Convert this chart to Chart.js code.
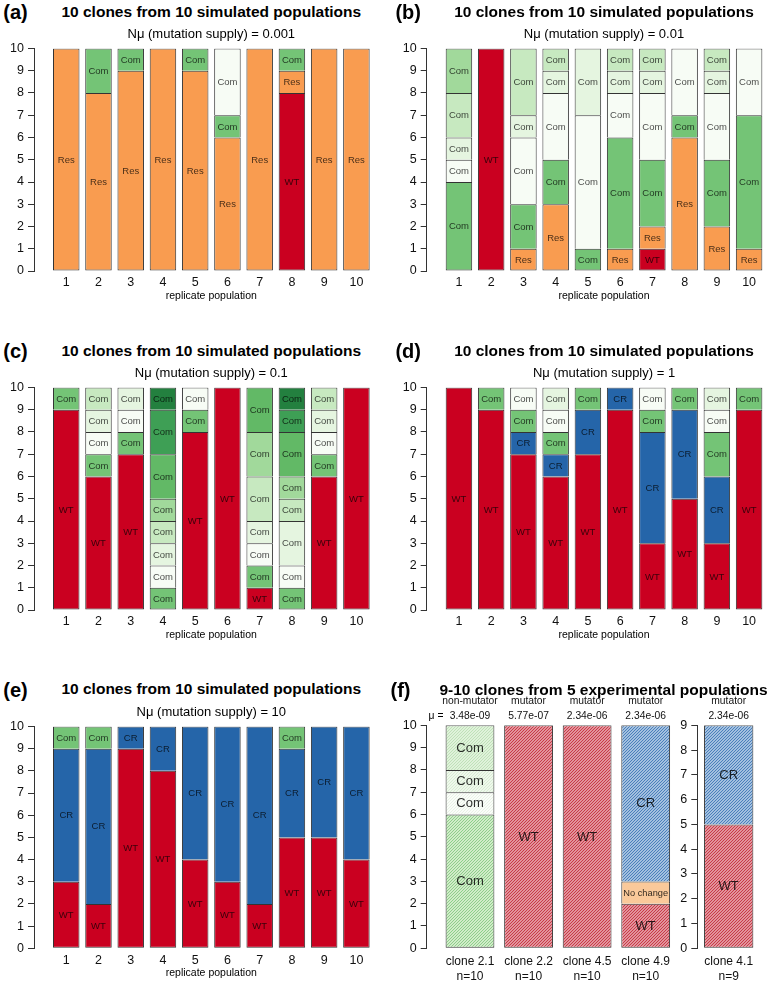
<!DOCTYPE html>
<html><head><meta charset="utf-8">
<script src="https://cdn.jsdelivr.net/npm/chart.js@4.4.1/dist/chart.umd.min.js"></script>
<style>
html,body{margin:0;padding:0;background:#fff;}
body{width:771px;height:982px;position:relative;overflow:hidden;font-family:"Liberation Sans",Arial,Helvetica,sans-serif;}
canvas{position:absolute;}
.t{position:absolute;white-space:nowrap;transform:translate(-50%,-50%);color:#000;line-height:1;}
</style></head><body>
<script>
// ---------------- DATA ----------------
const replicates = ['1','2','3','4','5','6','7','8','9','10'];
const yTickVals = [0,1,2,3,4,5,6,7,8,9,10];
const yTickValsClone41 = [0,1,2,3,4,5,6,7,8,9];
const panelLetters = ['(a)','(b)','(c)','(d)','(e)','(f)'];
const simTitle = '10 clones from 10 simulated populations';
const expTitle = '9-10 clones from 5 experimental populations';
const supplies = ['0.001','0.01','0.1','1','10'];

// genotype of each stacked segment (bottom to top) and its clone count
const typesA = [['Res'],['Res','Com0'],['Res','Com0'],['Res'],['Res','Com0'],['Res','Com0','Com1'],['Res'],['WT','Res','Com0'],['Res'],['Res']];
const countsA = [[10],[8,2],[9,1],[10],[9,1],[6,1,3],[10],[8,1,1],[10],[10]];

const typesB = [['Com0','Com1','Com2','Com3','Com4'],['WT'],['Res','Com0','Com1','Com2','Com3'],['Res','Com0','Com1','Com2','Com3'],['Com0','Com1','Com2'],['Res','Com0','Com1','Com2','Com3'],['WT','Res','Com0','Com1','Com2','Com3'],['Res','Com0','Com1'],['Res','Com0','Com1','Com2','Com3'],['Res','Com0','Com1']];
const countsB = [[4,1,1,2,2],[10],[1,2,3,1,3],[3,2,3,1,1],[1,6,3],[1,5,2,1,1],[1,1,3,3,1,1],[6,1,3],[2,3,3,1,1],[1,6,3]];

const typesC = [['WT','Com0'],['WT','Com0','Com1','Com2','Com3'],['WT','Com0','Com1','Com2'],['Com0','Com1','Com2','Com3','Com4','Com5','Com6','Com7'],['WT','Com0','Com1'],['WT'],['WT','Com0','Com1','Com2','Com3','Com4','Com5'],['Com0','Com1','Com2','Com3','Com4','Com5','Com6','Com7'],['WT','Com0','Com1','Com2','Com3'],['WT']];
const countsC = [[9,1],[6,1,1,1,1],[7,1,1,1],[1,1,1,1,1,2,2,1],[8,1,1],[10],[1,1,1,1,2,2,2],[1,1,2,1,1,2,1,1],[6,1,1,1,1],[10]];

const typesD = [['WT'],['WT','Com0'],['WT','CR','Com0','Com1'],['WT','CR','Com0','Com1','Com2'],['WT','CR','Com0'],['WT','CR'],['WT','CR','Com0','Com1'],['WT','CR','Com0'],['WT','CR','Com0','Com1','Com2'],['WT','Com0']];
const countsD = [[10],[9,1],[7,1,1,1],[6,1,1,1,1],[7,2,1],[9,1],[3,5,1,1],[5,4,1],[3,3,2,1,1],[9,1]];

const typesE = [['WT','CR','Com0'],['WT','CR','Com0'],['WT','CR'],['WT','CR'],['WT','CR'],['WT','CR'],['WT','CR'],['WT','CR','Com0'],['WT','CR'],['WT','CR']];
const countsE = [[3,6,1],[2,7,1],[9,1],[8,2],[4,6],[3,7],[2,8],[5,4,1],[5,5],[4,6]];

const clonesF = ['clone 2.1','clone 2.2','clone 4.5','clone 4.9'];
const nF = ['n=10','n=10','n=10','n=10'];
const statusF = ['non-mutator','mutator','mutator','mutator'];
const rateF = ['3.48e-09','5.77e-07','2.34e-06','2.34e-06'];
const typesF = [['Com0','Com1','Com2','Com3'],['WT'],['WT'],['WT','NC','CR']];
const countsF = [[6,1,1,2],[10],[10],[2,1,7]];

const clones41 = ['clone 4.1'];
const n41 = ['n=9'];
const status41 = ['mutator'];
const rate41 = ['2.34e-06'];
const types41 = [['WT','CR']];
const counts41 = [[5,4]];

const genotypeText = {WT:'WT',Res:'Res',CR:'CR',NC:'No change',Com0:'Com',Com1:'Com',Com2:'Com',Com3:'Com',Com4:'Com',Com5:'Com',Com6:'Com',Com7:'Com'};

// ---------------- STYLES ----------------
const FONT = '"Liberation Sans", Arial, Helvetica, sans-serif';
const solidColors = {WT:'#CA0020',Res:'#F99C50',CR:'#2565A9',NC:'#FAC99A',
  Com0:'#74C476',Com1:'#F7FCF5',Com2:'#E5F5E0',Com3:'#C7E9C0',Com4:'#A1D99B',Com5:'#62B966',Com6:'#3E9F55',Com7:'#23803F'};

function hatch(bg, line) {
  const c = document.createElement('canvas'); c.width = 3; c.height = 3;
  const g = c.getContext('2d');
  g.fillStyle = bg; g.fillRect(0,0,3,3);
  g.fillStyle = line;
  for (let y=0;y<3;y++) for (let x=0;x<3;x++) if ((x+y)%3===2) g.fillRect(x,y,1,1);
  return g.createPattern(c,'repeat');
}
const hatchColors = {
  WT: hatch('#E2939B','#C83A47'),
  CR: hatch('#A3C0DF','#4A7FBA'),
  NC: '#FAC99A',
  Com0: hatch('#D0ECC8','#8ECD8B'),
  Com1: hatch('#FBFDFA','#E8F3E5'),
  Com2: hatch('#EFF8EC','#D8EDD3'),
  Com3: hatch('#DFF2DA','#BFE1B8')
};

const segLabelPlugin = {
  id: 'segLabels',
  afterDatasetsDraw(chart, args, opts) {
    const ctx = chart.ctx;
    ctx.save();
    ctx.fillStyle = opts.color;
    ctx.textAlign = 'center';
    ctx.textBaseline = 'middle';
    chart.data.datasets.forEach((ds, i) => {
      const meta = chart.getDatasetMeta(i);
      meta.data.forEach((el, j) => {
        const txt = ds.segText[j];
        if (!txt || ds.data[j].y == null) return;
        const {x, y, base, width} = el.getProps(['x','y','base','width'], true);
        ctx.font = '1px ' + FONT;
        const w1 = ctx.measureText(txt).width;
        const size = Math.min(opts.size, (width - 4) / w1);
        ctx.font = size + 'px ' + FONT;
        ctx.fillText(txt, x, (y + base) / 2 + 0.5);
      });
    });
    ctx.restore();
  }
};

function makePanel(p) {
  const yw = 40, padR = 12;
  const topH = p.topLabels ? 30 : 0;
  const areaRight = p.areaLeft + (p.xMax - p.xMin) * p.pitch;
  const cLeft = Math.floor(p.areaLeft - yw);
  const cTop = Math.floor(p.areaTop - 10 - topH);
  const cW = Math.ceil(areaRight + padR - cLeft);
  const cH = Math.ceil(p.areaBottom + p.xh - cTop);
  const leftW = p.areaLeft - cLeft;
  const padTop = p.areaTop - cTop - topH;
  const padRight = cW - (areaRight - cLeft);
  const bottomH = cH - (p.areaBottom - cTop);
  const cv = document.createElement('canvas');
  cv.width = cW; cv.height = cH;
  cv.style.left = cLeft + 'px'; cv.style.top = cTop + 'px';
  cv.style.width = cW + 'px'; cv.style.height = cH + 'px';
  document.body.appendChild(cv);

  const nLayers = Math.max(...p.types.map(t => t.length));
  const datasets = [];
  for (let k = 0; k < nLayers; k++) {
    datasets.push({
      data: p.types.map((t, i) => ({x: i + 1, y: t[k] ? p.counts[i][k] : null})),
      backgroundColor: p.types.map(t => t[k] ? p.fill[t[k]] : 'rgba(0,0,0,0)'),
      segText: p.types.map(t => t[k] ? genotypeText[t[k]] : ''),
      borderColor: '#333333', borderWidth: 1,
      borderSkipped: k === 0 ? false : 'start',
      inflateAmount: 0,
      barThickness: p.barThickness
    });
  }
  const tickIdx = p.xLabels.map((_, i) => ({value: i + 1}));
  const scales = {
    x: {type:'linear', position:'bottom', stacked:true, offset:false, min:p.xMin, max:p.xMax,
      afterBuildTicks: s => { s.ticks = tickIdx.map(t => ({value:t.value})); },
      afterFit: s => { s.height = bottomH; },
      grid:{display:false, drawTicks:false, offset:false}, border:{display:false},
      ticks:{autoSkip:false, maxRotation:0, minRotation:0, padding:p.xPad, color:'#111',
        font:{family:FONT, size:p.xFontSize, lineHeight:p.xLineHeight},
        callback:(v, i) => p.xLabels[i]}},
    y: {type:'linear', position:'left', stacked:true, min:0, max:p.yMax,
      afterBuildTicks: s => { s.ticks = p.yTicks.map(v => ({value:v})); },
      afterFit: s => { s.width = leftW; },
      grid:{display:true, drawOnChartArea:false, drawTicks:true, tickLength:6, color:'#333', lineWidth:1},
      border:{display:true, color:'#333', width:1},
      ticks:{autoSkip:false, padding:4, color:'#111', font:{family:FONT, size:12.5}}}
  };
  if (p.topLabels) {
    scales.xTop = {type:'linear', axis:'x', position:'top', offset:false, min:p.xMin, max:p.xMax,
      afterBuildTicks: s => { s.ticks = tickIdx.map(t => ({value:t.value})); },
      afterFit: s => { s.height = topH; },
      grid:{display:false, drawTicks:false, offset:false}, border:{display:false},
      ticks:{autoSkip:false, maxRotation:0, minRotation:0, padding:2.2, color:'#111',
        font:{family:FONT, size:10.3, lineHeight:1.39},
        callback:(v, i) => p.topLabels[i]}};
  }
  return new Chart(cv, {
    type:'bar',
    data:{datasets},
    options:{
      responsive:false, animation:false, events:[],
      layout:{padding:{left:0, top:padTop, right:padRight, bottom:0}},
      plugins:{legend:{display:false}, tooltip:{enabled:false},
        segLabels:{size:p.segSize, color:p.segColor}},
      scales
    },
    plugins:[segLabelPlugin]
  });
}

function addText(txt, cx, cy, css) {
  const d = document.createElement('div');
  d.className = 't'; d.textContent = txt;
  d.style.left = cx + 'px'; d.style.top = cy + 'px';
  Object.assign(d.style, css);
  document.body.appendChild(d);
}

// ---------------- LAYOUT ----------------
const colAxis = [34, 426.7];
const rowTop = [47.7, 386.7, 725.3];
const rowBottom = [271, 610, 948.3];
const pitch = 32.24;
const simPanels = [
  {types:typesA, counts:countsA, col:0, row:0},
  {types:typesB, counts:countsB, col:1, row:0},
  {types:typesC, counts:countsC, col:0, row:1},
  {types:typesD, counts:countsD, col:1, row:1},
  {types:typesE, counts:countsE, col:0, row:2}
];
simPanels.forEach((sp, idx) => {
  makePanel({
    types:sp.types, counts:sp.counts, fill:solidColors,
    areaLeft:colAxis[sp.col], areaTop:rowTop[sp.row], areaBottom:rowBottom[sp.row],
    pitch:pitch, xMin:0, xMax:10.6, yMax:10, yTicks:yTickVals,
    xLabels:replicates, xh:22, xPad:4.4, xFontSize:12.5, xLineHeight:1.2,
    barThickness:26.5, segSize:9.5, segColor:'rgba(0,0,0,0.72)'
  });
  const cx = colAxis[sp.col] + 5.5 * pitch;
  const tTop = rowTop[sp.row];
  addText(panelLetters[idx], colAxis[sp.col] - 18.5, tTop - 35.5, {fontSize:'20px', fontWeight:'bold'});
  addText(simTitle, cx, tTop - 36, {fontSize:'15.5px', fontWeight:'bold'});
  addText('N\u03BC (mutation supply) = ' + supplies[idx], cx, tTop - 14.4, {fontSize:'13px'});
  addText('replicate population', cx, rowBottom[sp.row] + 24, {fontSize:'10.5px'});
});

// panel (f): experimental clones
const fPitch = 58.57;
makePanel({
  types:typesF, counts:countsF, fill:hatchColors,
  areaLeft:426.7, areaTop:725.3, areaBottom:948.3,
  pitch:fPitch, xMin:0.261, xMax:4.5, yMax:10, yTicks:yTickVals,
  xLabels:clonesF.map((c, i) => [c, nF[i]]), xh:40, xPad:5.6, xFontSize:12, xLineHeight:1.25,
  topLabels:statusF.map((s, i) => [s, rateF[i]]),
  barThickness:48.8, segSize:13, segColor:'rgba(0,0,0,0.82)'
});
makePanel({
  types:types41, counts:counts41, fill:hatchColors,
  areaLeft:697.3, areaTop:725.3, areaBottom:948.3,
  pitch:31.4, xMin:0, xMax:2, yMax:9, yTicks:yTickValsClone41,
  xLabels:clones41.map((c, i) => [c, n41[i]]), xh:40, xPad:5.6, xFontSize:12, xLineHeight:1.25,
  topLabels:status41.map((s, i) => [s, rate41[i]]),
  barThickness:49.3, segSize:13, segColor:'rgba(0,0,0,0.82)'
});
addText(panelLetters[5], 400.5, 689.5, {fontSize:'20px', fontWeight:'bold'});
addText(expTitle, 603.5, 689.5, {fontSize:'15.5px', fontWeight:'bold'});
addText('\u03BC =', 436, 716, {fontSize:'10.3px'});
</script>
</body></html>
